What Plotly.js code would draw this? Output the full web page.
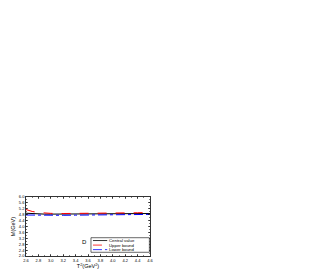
<!DOCTYPE html>
<html><head><meta charset="utf-8">
<script src="https://cdn.plot.ly/plotly-3.0.1.min.js"></script>
<style>html,body{margin:0;padding:0;background:#fff;}#c{width:327px;height:273px;}</style>
</head><body><div id="c"></div>
<script>
const T2 = [2.6, 2.7, 2.8, 2.9, 3.0, 3.2, 3.4, 3.6, 3.8, 4.0, 4.2, 4.4, 4.6];
const central = [4.9, 4.87, 4.85, 4.84, 4.84, 4.84, 4.84, 4.85, 4.85, 4.86, 4.87, 4.87, 4.88];
const upper = [5.15, 5.02, 4.95, 4.91, 4.89, 4.88, 4.88, 4.89, 4.9, 4.91, 4.92, 4.93, 4.95];
const lower = [4.78, 4.77, 4.76, 4.76, 4.76, 4.76, 4.77, 4.77, 4.78, 4.79, 4.8, 4.81, 4.82];
const xTicks = [2.6, 2.8, 3.0, 3.2, 3.4, 3.6, 3.8, 4.0, 4.2, 4.4, 4.6];
const yTicks = [2.0, 2.4, 2.8, 3.2, 3.6, 4.0, 4.4, 4.8, 5.2, 5.6, 6.0];
const names = ["Central value", "Upper bound", "Lower bound"];
const colors = ['#000000', '#ff0000', '#0000ff'];
const dashes = ['solid', 'dash', 'dashdot'];
const series = [central, upper, lower];

const traces = series.map((s, i) => ({x: T2, y: s, name: names[i], mode: 'lines',
  line: {color: colors[i], width: 1, dash: dashes[i]}, showlegend: false}));

const font = 'Arial, Liberation Sans';
const axisCommon = {
  showgrid: false, zeroline: false, showline: true, linecolor: '#000', linewidth: 0.8,
  mirror: 'ticks', ticks: 'inside', ticklen: 2, tickwidth: 0.6, tickcolor: '#000',
  tickfont: {family: font, size: 4, color: '#000'},
  minor: {ticks: 'inside', ticklen: 1, tickwidth: 0.5, tickcolor: '#000'}
};
// manual legend (paper coords of plot area)
const legRows = [0.262, 0.185, 0.108];
const shapes = [{type: 'rect', xref: 'paper', yref: 'paper', x0: 0.524, x1: 0.995, y0: 0.063, y1: 0.31,
  line: {color: '#000', width: 0.6}, fillcolor: '#fff', layer: 'above'}];
const annotations = [{x: 0.468, y: 0.158, xref: 'paper', yref: 'paper', text: 'D', showarrow: false,
  font: {family: font, size: 6, color: '#000'}}];
names.forEach((n, i) => {
  shapes.push({type: 'line', xref: 'paper', yref: 'paper', x0: 0.54, x1: 0.655, y0: legRows[i], y1: legRows[i],
    line: {color: colors[i], width: 0.8, dash: dashes[i]}, layer: 'above'});
  annotations.push({x: 0.665, y: legRows[i], xref: 'paper', yref: 'paper', xanchor: 'left', yanchor: 'middle',
    text: n, showarrow: false, font: {family: font, size: 4.3, color: '#000'}, borderpad: 0});
});

const layout = {
  width: 327, height: 273,
  paper_bgcolor: '#fff', plot_bgcolor: '#fff',
  margin: {l: 26, r: 177, t: 197, b: 17},
  showlegend: false,
  xaxis: Object.assign({}, axisCommon, {range: [2.6, 4.6], tickvals: xTicks, ticktext: xTicks.map(v => v.toFixed(1)),
    title: {text: 'T<sup>2</sup>(GeV<sup>2</sup>)', font: {family: font, size: 5.5, color: '#000'}, standoff: 2}}),
  yaxis: Object.assign({}, axisCommon, {range: [2.0, 6.0], tickvals: yTicks, ticktext: yTicks.map(v => v.toFixed(1)),
    title: {text: 'M(GeV)', font: {family: font, size: 5.5, color: '#000'}, standoff: 2}}),
  shapes: shapes,
  annotations: annotations
};
Plotly.newPlot('c', traces, layout, {displayModeBar: false, staticPlot: true});
</script></body></html>
